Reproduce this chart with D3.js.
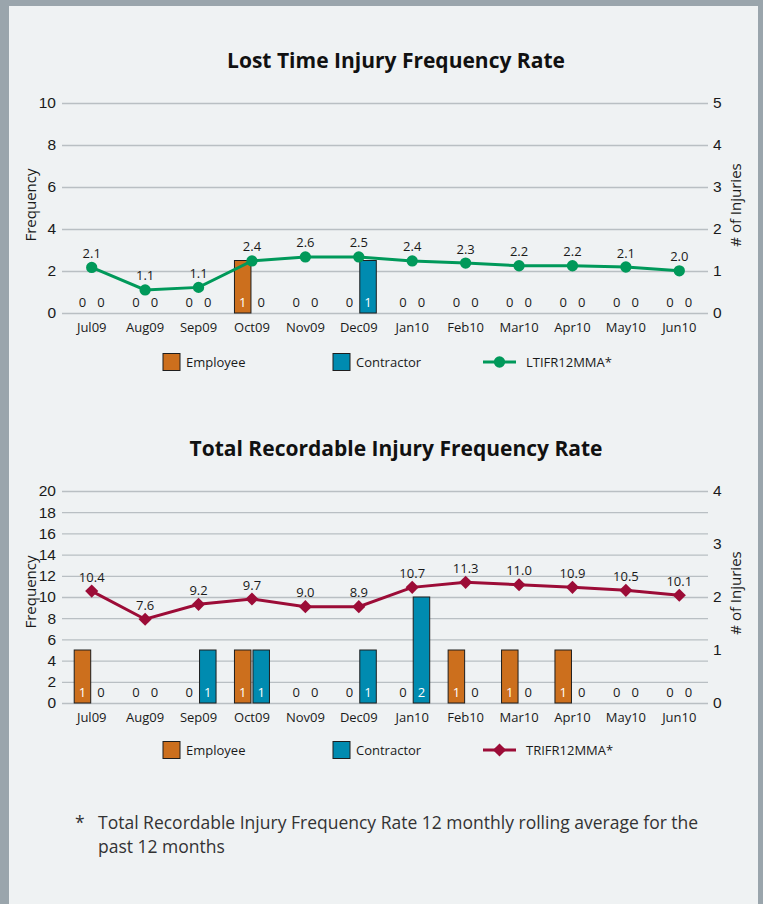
<!DOCTYPE html>
<html>
<head>
<meta charset="utf-8">
<script src="https://cdn.jsdelivr.net/npm/d3@7"></script>
<style>
  body { margin: 0; background: #9aa5ac; }
  svg { display: block; font-family: "Open Sans", "Noto Sans", sans-serif; }
</style>
</head>
<body>
<div id="chart"></div>
<script>
// month categories shared by both charts
var months = ['Jul09', 'Aug09', 'Sep09', 'Oct09', 'Nov09', 'Dec09',
              'Jan10', 'Feb10', 'Mar10', 'Apr10', 'May10', 'Jun10'];

// Lost time injuries
var ltiEmployee   = [0, 0, 0, 1, 0, 0, 0, 0, 0, 0, 0, 0];
var ltiContractor = [0, 0, 0, 0, 0, 1, 0, 0, 0, 0, 0, 0];
var ltifr         = [2.17, 1.1, 1.22, 2.48, 2.67, 2.67, 2.48, 2.38, 2.25, 2.25, 2.19, 2.01];
var ltifrLabels   = ['2.1', '1.1', '1.1', '2.4', '2.6', '2.5', '2.4', '2.3', '2.2', '2.2', '2.1', '2.0'];
var ltiFreqTicks  = [0, 2, 4, 6, 8, 10];
var ltiCountTicks = [0, 1, 2, 3, 4, 5];

// Total recordable injuries
var triEmployee   = [1, 0, 0, 1, 0, 0, 0, 1, 1, 1, 0, 0];
var triContractor = [0, 0, 1, 1, 0, 1, 2, 0, 0, 0, 0, 0];
var trifr         = [10.56, 7.9, 9.31, 9.81, 9.09, 9.09, 10.91, 11.38, 11.16, 10.91, 10.63, 10.16];
var trifrLabels   = ['10.4', '7.6', '9.2', '9.7', '9.0', '8.9', '10.7', '11.3', '11.0', '10.9', '10.5', '10.1'];
var triFreqTicks  = [0, 2, 4, 6, 8, 10, 12, 14, 16, 18, 20];
var triCountTicks = [0, 1, 2, 3, 4];

var footnote = ['Total Recordable Injury Frequency Rate 12 monthly rolling average for the',
                'past 12 months'];

var W = 763, H = 904;
var orange = '#cc6f1d', blue = '#008bb0';

var svg = d3.select('#chart').append('svg')
    .attr('width', W)
    .attr('height', H);

// light panel
svg.append('rect')
    .attr('x', 9).attr('y', 6)
    .attr('width', 749).attr('height', H)
    .attr('fill', '#eff2f3');

function drawChart(o) {
  var g = svg.append('g');
  var left = 62, right = 708;

  var x = d3.scaleBand().domain(months).range([65, 706]);
  var yFreq = d3.scaleLinear().domain([0, o.freqMax]).range([o.bottom, o.top]);
  var yCount = d3.scaleLinear().domain([0, o.countMax]).range([o.bottom, o.top]);
  // bars are drawn against a 0-4 injury scale
  var yBar = d3.scaleLinear().domain([0, 4]).range([o.bottom, o.top]);

  g.append('text')
      .attr('x', 396).attr('y', o.top - 42)
      .attr('dy', '0.35em')
      .attr('text-anchor', 'middle')
      .attr('font-size', 21).attr('font-weight', 'bold')
      .attr('fill', '#111')
      .text(o.title);

  // left axis + grid
  var ax = g.append('g')
      .attr('transform', 'translate(' + left + ',0)')
      .call(d3.axisLeft(yFreq).tickValues(o.freqTicks).tickSize(-(right - left)).tickPadding(6));
  ax.select('.domain').remove();
  ax.selectAll('.tick line').attr('stroke', '#b9bfc3').attr('stroke-width', 1.3);
  ax.selectAll('.tick text').attr('font-size', 15.5).attr('fill', '#1a1a1a').attr('font-family', null);

  // right axis
  var ar = g.append('g')
      .attr('transform', 'translate(' + right + ',0)')
      .call(d3.axisRight(yCount).tickValues(o.countTicks).tickFormat(d3.format('d'))
        .tickSize(0).tickPadding(5));
  ar.select('.domain').remove();
  ar.selectAll('.tick text').attr('font-size', 15.5).attr('fill', '#1a1a1a').attr('font-family', null);

  g.append('text')
      .attr('transform', 'translate(31,' + o.freqLabelY + ') rotate(-90)')
      .attr('text-anchor', 'middle')
      .attr('dy', '0.35em')
      .attr('font-size', 15).attr('fill', '#1a1a1a')
      .text('Frequency');
  g.append('text')
      .attr('transform', 'translate(736,' + o.countLabelY + ') rotate(-90)')
      .attr('text-anchor', 'middle')
      .attr('dy', '0.35em')
      .attr('font-size', 15).attr('fill', '#1a1a1a')
      .text('# of Injuries');

  // month labels
  g.selectAll('.mlabel')
      .data(months)
    .enter().append('text')
      .attr('x', function(d) { return x(d) + x.bandwidth() / 2; })
      .attr('y', o.bottom + 14)
      .attr('dy', '0.35em')
      .attr('text-anchor', 'middle')
      .attr('font-size', 13).attr('fill', '#1a1a1a')
      .text(function(d) { return d; });

  var series = [
    {vals: o.employee,   color: orange, dx: -17.5},
    {vals: o.contractor, color: blue,   dx: 1}
  ];

  series.forEach(function(s) {
    var rows = s.vals.map(function(v, i) { return {m: months[i], v: v}; });

    g.selectAll(null)
        .data(rows.filter(function(d) { return d.v > 0; }))
      .enter().append('rect')
        .attr('x', function(d) { return x(d.m) + x.bandwidth() / 2 + s.dx; })
        .attr('y', function(d) { return yBar(d.v); })
        .attr('width', 16.5)
        .attr('height', function(d) { return yBar(0) - yBar(d.v); })
        .attr('fill', s.color)
        .attr('stroke', '#1e1e1e').attr('stroke-width', 1);

    g.selectAll(null)
        .data(rows)
      .enter().append('text')
        .attr('x', function(d) { return x(d.m) + x.bandwidth() / 2 + s.dx + 8.25; })
        .attr('y', o.bottom - 11)
        .attr('dy', '0.35em')
        .attr('text-anchor', 'middle')
        .attr('font-size', 13)
        .attr('fill', function(d) { return d.v > 0 ? '#fff' : '#1a1a1a'; })
        .text(function(d) { return d.v; });
  });

  // rolling average line
  var pts = o.rate.map(function(v, i) {
    return {m: months[i], v: v, label: o.rateLabels[i]};
  });
  var cx = function(d) { return x(d.m) + x.bandwidth() / 2; };

  g.append('path')
      .datum(pts)
      .attr('fill', 'none')
      .attr('stroke', o.lineColor)
      .attr('stroke-width', 3)
      .attr('d', d3.line().x(cx).y(function(d) { return yFreq(d.v); }));

  var symbol = d3.symbol().type(o.marker).size(o.markerSize);
  g.selectAll('.mark')
      .data(pts)
    .enter().append('path')
      .attr('transform', function(d) { return 'translate(' + cx(d) + ',' + yFreq(d.v) + ')'; })
      .attr('d', symbol)
      .attr('fill', o.lineColor);

  g.selectAll('.vlabel')
      .data(pts)
    .enter().append('text')
      .attr('x', cx)
      .attr('y', function(d) { return yFreq(d.v) - 14; })
      .attr('dy', '0.35em')
      .attr('text-anchor', 'middle')
      .attr('font-size', 13).attr('fill', '#1a1a1a')
      .text(function(d) { return d.label; });

  // legend
  var ly = o.bottom + o.legendOffset;
  var leg = g.append('g');
  [{name: 'Employee', color: orange, x: 163}, {name: 'Contractor', color: blue, x: 333}]
    .forEach(function(l) {
      leg.append('rect')
          .attr('x', l.x).attr('y', ly - 8.5)
          .attr('width', 17).attr('height', 17)
          .attr('fill', l.color)
          .attr('stroke', '#1e1e1e');
      leg.append('text')
          .attr('x', l.x + 23).attr('y', ly)
          .attr('dy', '0.35em')
          .attr('font-size', 13).attr('fill', '#1a1a1a')
          .text(l.name);
    });
  leg.append('line')
      .attr('x1', 483).attr('x2', 516)
      .attr('y1', ly).attr('y2', ly)
      .attr('stroke', o.lineColor).attr('stroke-width', 3);
  leg.append('path')
      .attr('transform', 'translate(499.5,' + ly + ')')
      .attr('d', symbol)
      .attr('fill', o.lineColor);
  leg.append('text')
      .attr('x', 526).attr('y', ly)
      .attr('dy', '0.35em')
      .attr('font-size', 13).attr('fill', '#1a1a1a')
      .text(o.lineName);
}

drawChart({
  title: 'Lost Time Injury Frequency Rate',
  top: 103, bottom: 313,
  freqMax: 10, countMax: 5,
  freqTicks: ltiFreqTicks, countTicks: ltiCountTicks,
  freqLabelY: 205, countLabelY: 205,
  employee: ltiEmployee, contractor: ltiContractor,
  rate: ltifr, rateLabels: ltifrLabels,
  lineColor: '#00995a', lineName: 'LTIFR12MMA*',
  marker: d3.symbolCircle, markerSize: 100,
  legendOffset: 49
});

drawChart({
  title: 'Total Recordable Injury Frequency Rate',
  top: 491, bottom: 703,
  freqMax: 20, countMax: 4,
  freqTicks: triFreqTicks, countTicks: triCountTicks,
  freqLabelY: 592, countLabelY: 593,
  employee: triEmployee, contractor: triContractor,
  rate: trifr, rateLabels: trifrLabels,
  lineColor: '#9c0c37', lineName: 'TRIFR12MMA*',
  marker: d3.symbolDiamond2, markerSize: 110,
  legendOffset: 47
});

// footnote
svg.append('text')
    .attr('x', 75).attr('y', 823)
    .attr('dy', '0.35em')
    .attr('font-size', 17.5).attr('fill', '#333')
    .text('*');
svg.selectAll('.foot')
    .data(footnote)
  .enter().append('text')
    .attr('x', 98)
    .attr('y', function(d, i) { return 823 + i * 24; })
    .attr('dy', '0.35em')
    .attr('font-size', 17.5).attr('fill', '#333')
    .text(function(d) { return d; });
</script>
</body>
</html>
